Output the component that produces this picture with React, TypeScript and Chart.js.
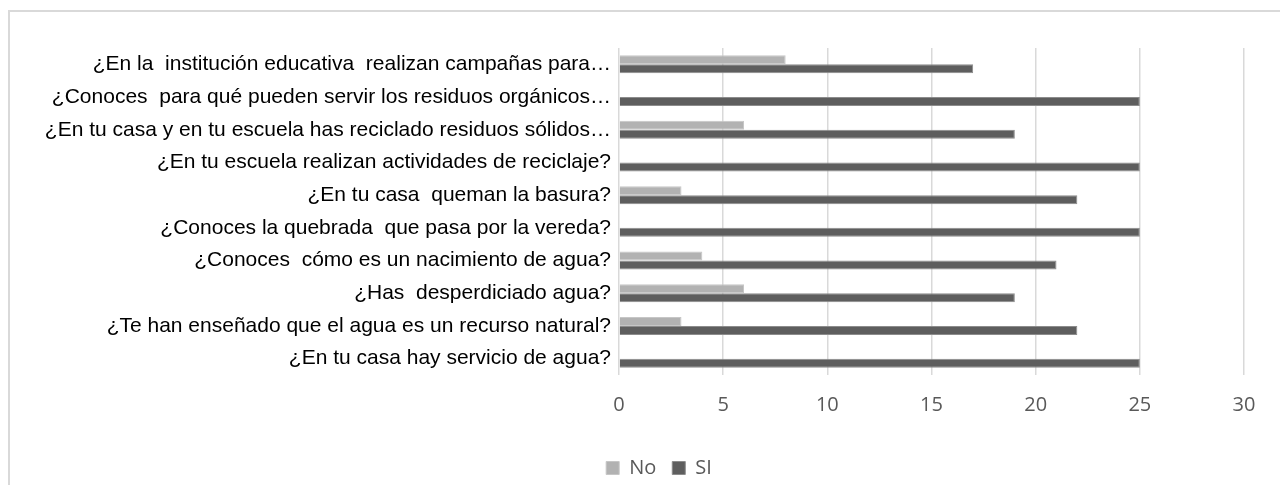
import React, { useEffect, useRef } from "react";
import { Chart, registerables } from "chart.js";

Chart.register(...registerables);

const categories = [
  "¿En la  institución educativa  realizan campañas para…",
  "¿Conoces  para qué pueden servir los residuos orgánicos…",
  "¿En tu casa y en tu escuela has reciclado residuos sólidos…",
  "¿En tu escuela realizan actividades de reciclaje?",
  "¿En tu casa  queman la basura?",
  "¿Conoces la quebrada  que pasa por la vereda?",
  "¿Conoces  cómo es un nacimiento de agua?",
  "¿Has  desperdiciado agua?",
  "¿Te han enseñado que el agua es un recurso natural?",
  "¿En tu casa hay servicio de agua?",
];

const noValues = [8, 0, 6, 0, 3, 0, 4, 6, 3, 0];
const siValues = [17, 25, 19, 25, 22, 25, 21, 19, 22, 25];

const seriesNames = ["No", "SI"];

const TICK_FONT = '"Open Sans", "Liberation Sans", sans-serif';
const LABEL_FONT = '"Liberation Sans", Arial, Helvetica, sans-serif';

const legendShift = {
  id: "legendShift",
  afterLayout(chart: any) {
    const lg = chart.legend;
    if (lg) {
      lg.left += 32;
      lg.right += 32;
    }
  },
};

export default function App() {
  const canvasRef = useRef<HTMLCanvasElement | null>(null);

  useEffect(() => {
    if (!canvasRef.current) return;
    const chart = new Chart(canvasRef.current, {
      type: "bar",
      data: {
        labels: categories,
        datasets: [
          {
            label: seriesNames[0],
            data: noValues,
            backgroundColor: "#b2b2b2",
            borderColor: "#c6c6c6",
            borderWidth: 1,
            categoryPercentage: 0.55,
            barPercentage: 1,
          },
          {
            label: seriesNames[1],
            data: siValues,
            backgroundColor: "#5e5e5e",
            borderColor: "#8c8c8c",
            borderWidth: 1,
            categoryPercentage: 0.55,
            barPercentage: 1,
          },
        ],
      },
      options: {
        indexAxis: "y",
        animation: false,
        responsive: false,
        maintainAspectRatio: false,
        devicePixelRatio: 1,
        layout: { padding: { left: 10, right: 36, top: 48, bottom: 12 } },
        plugins: {
          tooltip: { enabled: false },
          legend: {
            position: "bottom",
            labels: {
              boxWidth: 13,
              boxHeight: 13,
              padding: 16,
              color: "#595959",
              font: { family: TICK_FONT, size: 20 },
            },
          },
        },
        scales: {
          x: {
            min: 0,
            max: 30,
            ticks: {
              stepSize: 5,
              color: "#595959",
              padding: 18,
              font: { family: TICK_FONT, size: 20 },
            },
            grid: { color: "#d9d9d9", lineWidth: 1.5, drawTicks: false },
            border: { display: false },
            afterFit: (scale: any) => {
              scale.height = 67;
            },
          },
          y: {
            ticks: {
              color: "#000000",
              padding: 8,
              autoSkip: false,
              font: { family: LABEL_FONT, size: 21 },
            },
            grid: { display: false, drawTicks: false },
            border: { display: false },
            afterFit: (scale: any) => {
              scale.width = 609;
            },
          },
        },
      },
      plugins: [legendShift],
    });
    return () => chart.destroy();
  }, []);

  return (
    <div
      style={{
        position: "fixed",
        left: 0,
        top: 0,
        width: 1280,
        height: 485,
        overflow: "hidden",
        background: "#fff",
      }}
    >
      <div
        style={{
          position: "absolute",
          left: 8,
          top: 10,
          width: 1300,
          height: 500,
          borderTop: "2px solid #d9d9d9",
          borderLeft: "2px solid #d9d9d9",
        }}
      />
      <canvas
        ref={canvasRef}
        width={1280}
        height={500}
        style={{ position: "absolute", left: 0, top: 0, width: 1280, height: 500 }}
      />
    </div>
  );
}
